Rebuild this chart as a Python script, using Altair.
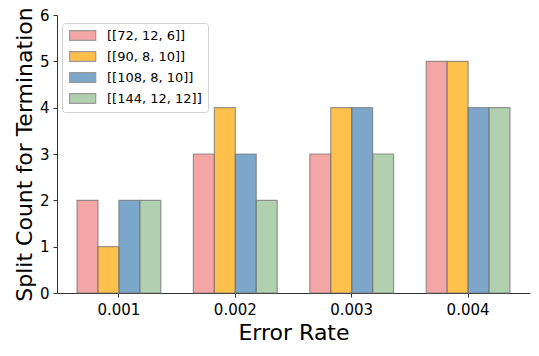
import altair as alt
import pandas as pd

error_rates = ["0.001", "0.002", "0.003", "0.004"]
codes = ["[[72, 12, 6]]", "[[90, 8, 10]]", "[[108, 8, 10]]", "[[144, 12, 12]]"]
values = {
    "[[72, 12, 6]]": [2, 3, 3, 5],
    "[[90, 8, 10]]": [1, 4, 4, 5],
    "[[108, 8, 10]]": [2, 3, 4, 4],
    "[[144, 12, 12]]": [2, 2, 3, 4],
}
colors = ["#F08080", "#FFA500", "#4682B4", "#8FBC8F"]

rows = []
for c in codes:
    for er, v in zip(error_rates, values[c]):
        rows.append({"er": er, "code": c, "count": v})
df = pd.DataFrame(rows)

font = "DejaVu Sans"

chart = alt.Chart(df).mark_bar(
    fillOpacity=0.7, stroke="#707070", strokeOpacity=0.7, strokeWidth=1.2
).encode(
    x=alt.X("er:N", sort=error_rates,
            scale=alt.Scale(paddingInner=0.28, paddingOuter=0.172),
            axis=alt.Axis(title="Error Rate", labelAngle=0, titleFontSize=22,
                          labelFontSize=15, titleFontWeight="normal",
                          titlePadding=5, labelPadding=5, tickSize=4)),
    xOffset=alt.XOffset("code:N", sort=codes,
                        scale=alt.Scale(paddingInner=0, paddingOuter=0)),
    y=alt.Y("count:Q", scale=alt.Scale(domain=[0, 6], nice=False),
            axis=alt.Axis(title="Split Count for Termination", values=[0, 1, 2, 3, 4, 5, 6],
                          titleFontSize=22, labelFontSize=15, titleFontWeight="normal",
                          titlePadding=3, labelPadding=4, tickSize=4, grid=False)),
    fill=alt.Fill("code:N", sort=codes, scale=alt.Scale(domain=codes, range=colors),
                  legend=alt.Legend(title=None, orient="none", legendX=5, legendY=8,
                                    symbolType="M-1,-1H4.4V1H-1Z",
                                    symbolSize=93,
                                    symbolOpacity=0.7, symbolStrokeColor="#707070",
                                    symbolStrokeWidth=1.2,
                                    labelFontSize=13, labelFont=font, labelColor="black",
                                    labelOffset=26, rowPadding=6,
                                    padding=6, strokeColor="#d0d0d0", cornerRadius=3,
                                    fillColor="white")),
).properties(
    width=473, height=278,
    padding={"left": 49, "top": 7, "right": 1, "bottom": 55},
    autosize=alt.AutoSizeParams(type="none"),
).configure_axis(
    domainColor="#333333", tickColor="#333333", labelColor="black", titleColor="black",
    labelFont=font, titleFont=font, domainWidth=1,
).configure_view(
    stroke=None
)

chart.save("out.html", embed_options={"renderer": "svg", "actions": False})
